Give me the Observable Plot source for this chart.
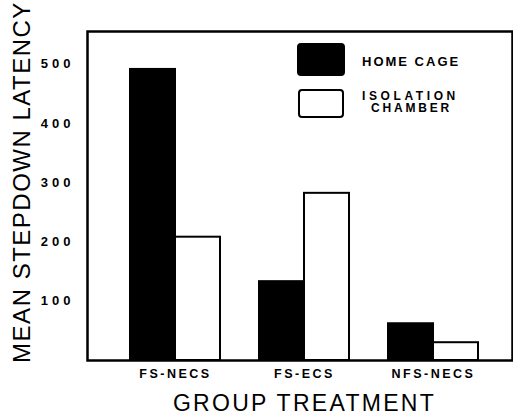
<!DOCTYPE html>
<html><head><meta charset="utf-8">
<script src="https://cdn.jsdelivr.net/npm/d3@7"></script>
<script src="https://cdn.jsdelivr.net/npm/@observablehq/plot@0.6"></script>
<style>
body{margin:0;background:#fff;}
#wrap{position:relative;width:513px;height:415px;overflow:hidden;background:#fff;}
#wrap svg{position:absolute;left:0;top:0;}
g[aria-label="y-axis tick label"] text{font-size:13px;font-weight:bold;letter-spacing:4px;}
g[aria-label="fx-axis tick label"] text{font-size:12.5px;font-weight:bold;letter-spacing:2.5px;}
g[aria-label="fx-axis label"] text{font-size:23px;letter-spacing:2.3px;}
.ylab text{font-size:24px;letter-spacing:1.5px;}
.leg{position:absolute;font-family:'Liberation Sans',sans-serif;font-weight:bold;color:#000;white-space:nowrap;}
.sw{position:absolute;box-sizing:border-box;border-radius:4px;}
</style></head><body><div id="wrap"></div>
<script>
const groups = ["FS-NECS", "FS-ECS", "NFS-NECS"];
const conditions = ["HOME CAGE", "ISOLATION CHAMBER"];
const homeCage = [491, 133, 62];
const isolation = [208, 282, 30];
const yTicks = [100, 200, 300, 400, 500];
const yDomain = [0, 555];
const yTitle = "MEAN STEPDOWN LATENCY";
const xTitle = "GROUP TREATMENT";

const data = groups.flatMap((g, i) => [
  {group: g, cond: conditions[0], value: homeCage[i]},
  {group: g, cond: conditions[1], value: isolation[i]}
]);

const common = {
  width: 513, height: 415,
  marginLeft: 87, marginRight: 1, marginTop: 31, marginBottom: 55,
  style: {fontFamily: "'Liberation Sans', sans-serif", color: "black", background: "transparent"}
};

// back layer: frame, y axis and its title
const back = Plot.plot({
  ...common,
  y: {domain: yDomain, ticks: yTicks, tickSize: 0, tickPadding: 13, label: null},
  marks: [
    Plot.frame({stroke: "black", strokeWidth: 2.5}),
    Plot.text([yTitle], {text: d => d, frameAnchor: "left", textAnchor: "middle", lineAnchor: "middle",
      rotate: -90, dx: -65, dy: -14, fill: "black", className: "ylab"})
  ]
});

// front layer: grouped bars with the group axis
const front = Plot.plot({
  ...common,
  fx: {domain: groups, paddingInner: 0.305, paddingOuter: 0.293, align: 0.55, label: xTitle,
       axis: "bottom", tickSize: 0, tickPadding: 9, labelAnchor: "center", labelOffset: 50},
  x: {domain: conditions, axis: null, padding: 0},
  y: {domain: yDomain, axis: null},
  color: {domain: conditions, range: ["black", "white"]},
  marks: [
    Plot.barY(data, {fx: "group", x: "cond", y: "value", fill: "cond", stroke: "black", strokeWidth: 2})
  ]
});

const wrap = document.getElementById("wrap");
wrap.appendChild(back);
wrap.appendChild(front);
back.querySelectorAll("g[aria-label='text']").forEach(g => g.classList.add("ylab"));

// legend overlay
const swatches = [
  {fill: "black", left: 297, top: 43, w: 48, h: 33},
  {fill: "white", left: 298, top: 89, w: 46, h: 29}
];
for (const s of swatches) {
  const d = document.createElement("div");
  d.className = "sw";
  Object.assign(d.style, {left: s.left + "px", top: s.top + "px", width: s.w + "px", height: s.h + "px",
    background: s.fill, border: "2.5px solid black"});
  wrap.appendChild(d);
}
const legendText = [
  {text: "HOME CAGE", left: 362, top: 55, size: 13, ls: 2},
  {text: "ISOLATION", left: 362, top: 89.5, size: 12, ls: 3.6},
  {text: "CHAMBER", left: 371, top: 102, size: 12, ls: 2.8}
];
for (const t of legendText) {
  const d = document.createElement("div");
  d.className = "leg";
  Object.assign(d.style, {left: t.left + "px", top: t.top + "px", fontSize: t.size + "px",
    lineHeight: t.size + "px", letterSpacing: t.ls + "px"});
  d.textContent = t.text;
  wrap.appendChild(d);
}
</script></body></html>
